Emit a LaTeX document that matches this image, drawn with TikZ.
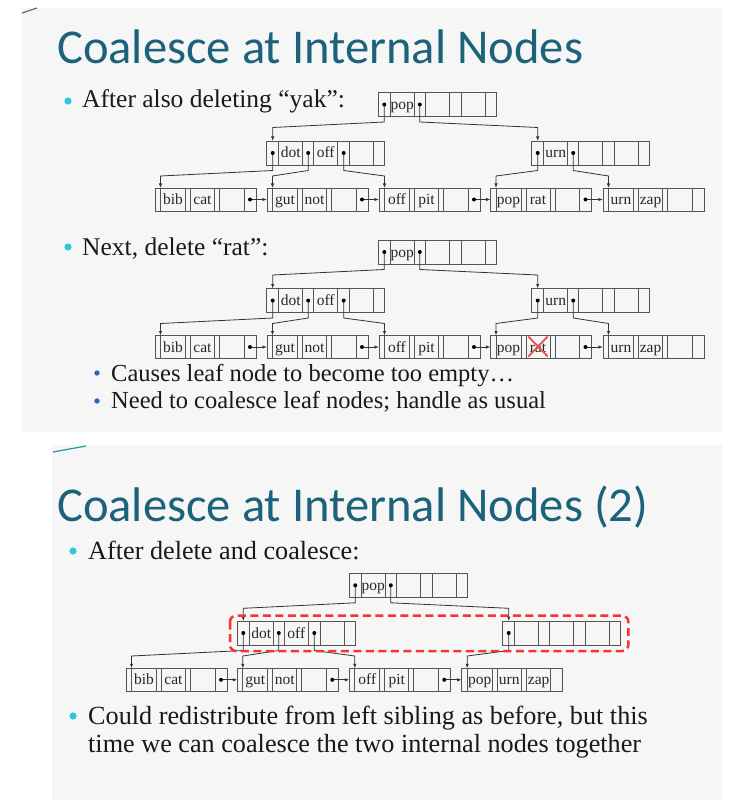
\documentclass[tikz,border=0pt]{standalone}
\usepackage{fontspec}
\setmainfont{Liberation Serif}
\newfontfamily\titlefont{Carlito}
\usetikzlibrary{calc,arrows.meta}
\definecolor{titleteal}{RGB}{28,98,122}
\definecolor{bulcyan}{RGB}{45,200,220}
\definecolor{subblue}{RGB}{40,100,200}
\definecolor{slidebg}{RGB}{246,246,246}
\definecolor{boxgray}{RGB}{85,85,85}
\definecolor{xred}{RGB}{232,80,80}
\definecolor{dashred}{RGB}{250,50,50}
\definecolor{decoteal}{RGB}{40,150,160}
\tikzset{
  ibox/.style={draw=boxgray, line width=0.9pt, minimum width=118pt, minimum height=24pt, inner sep=0pt, outer sep=0pt},
  lbox/.style={draw=boxgray, line width=0.9pt, minimum width=101pt, minimum height=23pt, inner sep=0pt, outer sep=0pt},
  cell/.style={draw=boxgray, line width=0.9pt},
  key/.style={font=\fontsize{15.5}{15.5}\selectfont, inner sep=0pt, text=black!85, anchor=base},
  ptr/.style={draw=black!80, line width=0.8pt, -{Latex[length=4.5pt,width=3.4pt]}},
  title/.style={font=\titlefont\fontsize{48.6}{50}\selectfont, text=titleteal, anchor=base west, inner sep=0pt},
  btext/.style={font=\fontsize{25.5}{27}\selectfont, text=black!90, anchor=base west, inner sep=0pt},
  btextb/.style={font=\fontsize{26.2}{28}\selectfont, text=black!90, anchor=base west, inner sep=0pt},
  stext/.style={font=\fontsize{24.5}{26}\selectfont, text=black!90, anchor=base west, inner sep=0pt},
  xmark/.style={draw=xred, line width=1.8pt},
  groupbox/.style={draw=dashred, line width=2.5pt, dash pattern=on 8pt off 4.5pt, rounded corners=6pt}
}
% internal node: name, left, top, k1, k2, k3
\newcommand\bpinode[6]{%
  \node[ibox] (#1) at ({#2+59},{#3+12}) {};
  \foreach \o in {12,36,47,71,83,107}{\draw[cell] ({#2+\o},{#3}) -- ({#2+\o},{#3+24});}
  \node[key] (#1-k1) at ({#2+24},{#3+17}) {#4};
  \node[key] (#1-k2) at ({#2+59},{#3+17}) {#5};
  \node[key] (#1-k3) at ({#2+95},{#3+17}) {#6};
  \coordinate (#1-p1) at ({#2+6},{#3+12});
  \coordinate (#1-p2) at ({#2+41.5},{#3+12});
  \coordinate (#1-p3) at ({#2+77},{#3+12});
  \coordinate (#1-p4) at ({#2+112.5},{#3+12});
}
% leaf node: name, left, top, k1, k2, k3
\newcommand\bpleaf[6]{%
  \node[lbox] (#1) at ({#2+50.5},{#3+11.5}) {};
  \foreach \o in {5.5,30.5,35.5,59.5,64.5,89}{\draw[cell] ({#2+\o},{#3}) -- ({#2+\o},{#3+23});}
  \node[key] (#1-k1) at ({#2+18},{#3+16.5}) {#4};
  \node[key] (#1-k2) at ({#2+47.5},{#3+16.5}) {#5};
  \node[key] (#1-k3) at ({#2+77},{#3+16.5}) {#6};
  \coordinate (#1-in) at ({#2+5.5},{#3+11.5});
  \coordinate (#1-nx) at ({#2+95},{#3+11.5});
}
% child pointer: from, landing coordinate, parent, child
\newcommand\cptr[4]{%
  \draw[ptr] (#1) -- ($(#1 |- #3.south)+(0,5.5)$) -- ($(#2 |- #3.south)+(0,11)$) -- (#2 |- #4.north);
  \fill (#1) circle (2pt);
}
% sibling link
\newcommand\sptr[2]{%
  \draw[ptr] (#1-nx) -- (#2.west);
  \fill (#1-nx) circle (2pt);
}
% first two-level tree: prefix, dy
\newcommand\treeA[2]{%
  \bpinode{#1r}{378.3}{92.5+#2}{pop}{}{}
  \bpinode{#1i1}{266.7}{141+#2}{dot}{off}{}
  \bpinode{#1i2}{531.7}{141+#2}{urn}{}{}
  \bpleaf{#1l1}{155}{188+#2}{bib}{cat}{}
  \bpleaf{#1l2}{267}{188+#2}{gut}{not}{}
  \bpleaf{#1l3}{379}{188+#2}{off}{pit}{}
  \bpleaf{#1l4}{490.5}{188+#2}{pop}{rat}{}
  \bpleaf{#1l5}{603}{188+#2}{urn}{zap}{}
  \cptr{#1r-p1}{#1i1-p1}{#1r}{#1i1}
  \cptr{#1r-p2}{#1i2-p1}{#1r}{#1i2}
  \cptr{#1i1-p1}{#1l1-in}{#1i1}{#1l1}
  \cptr{#1i1-p2}{#1l2-in}{#1i1}{#1l2}
  \cptr{#1i1-p3}{#1l3-in}{#1i1}{#1l3}
  \cptr{#1i2-p1}{#1l4-in}{#1i2}{#1l4}
  \cptr{#1i2-p2}{#1l5-in}{#1i2}{#1l5}
  \sptr{#1l1}{#1l2}
  \sptr{#1l2}{#1l3}
  \sptr{#1l3}{#1l4}
  \sptr{#1l4}{#1l5}
}
\begin{document}
\begin{tikzpicture}[x=1pt,y=-1pt]
\useasboundingbox (0,0) rectangle (733,802);
\fill[white] (0,0) rectangle (733,802);
% slide backgrounds
\fill[slidebg] (22,8) rectangle (722,432);
\fill[slidebg] (52,445) rectangle (722,800);
\draw[black!60, line width=1.2pt] (22,13) -- (37,8);
\draw[decoteal, line width=1.2pt] (53,452) -- (86,446);

% ---------- slide 1 ----------
\node[title] (t1) at (57,64) {Coalesce at Internal Nodes};
\fill[bulcyan] (68,101) circle (3.6pt);
\node[btext] (b1) at (82,108) {After also deleting “yak”:};
\treeA{a}{0}

\fill[bulcyan] (68,247) circle (3.6pt);
\node[btext] (b2) at (82,255) {Next, delete “rat”:};
\treeA{b}{147.5}
\draw[xmark] ($(bl4-k2.base)+(-9.7,-15.5)$) -- ($(bl4-k2.base)+(9.7,4.5)$);
\draw[xmark] ($(bl4-k2.base)+(-9.7,4.5)$) -- ($(bl4-k2.base)+(9.7,-15.5)$);

\fill[subblue] (97,373) circle (2.7pt);
\node[stext] (s1) at (111,381) {Causes leaf node to become too empty…};
\fill[subblue] (97,401) circle (2.7pt);
\node[stext] (s2) at (111,408.5) {Need to coalesce leaf nodes; handle as usual};

% ---------- slide 2 ----------
\node[title] (t2) at (57,521) {Coalesce at Internal Nodes (2)};
\fill[bulcyan] (73,551) circle (3.6pt);
\node[btextb] (b3) at (88,559) {After delete and coalesce:};

\bpinode{cr}{349.3}{573.3}{pop}{}{}
\bpinode{ci1}{237.3}{621}{dot}{off}{}
\bpinode{ci2}{502.7}{621}{}{}{}
\bpleaf{cl1}{126}{668.3}{bib}{cat}{}
\bpleaf{cl2}{237.3}{668.3}{gut}{not}{}
\bpleaf{cl3}{349.3}{668.3}{off}{pit}{}
\bpleaf{cl4}{461.7}{668.3}{pop}{urn}{zap}
\cptr{cr-p1}{ci1-p1}{cr}{ci1}
\cptr{cr-p2}{ci2-p1}{cr}{ci2}
\cptr{ci1-p1}{cl1-in}{ci1}{cl1}
\cptr{ci1-p2}{cl2-in}{ci1}{cl2}
\cptr{ci1-p3}{cl3-in}{ci1}{cl3}
\cptr{ci2-p1}{cl4-in}{ci2}{cl4}
\sptr{cl1}{cl2}
\sptr{cl2}{cl3}
\sptr{cl3}{cl4}
\draw[groupbox] (230,615.7) rectangle (628.3,651);

\fill[bulcyan] (73,716) circle (3.6pt);
\node[btextb] (b4) at (88,724) {Could redistribute from left sibling as before, but this};
\node[btextb] (b5) at (88,752) {time we can coalesce the two internal nodes together};
\end{tikzpicture}
\end{document}
